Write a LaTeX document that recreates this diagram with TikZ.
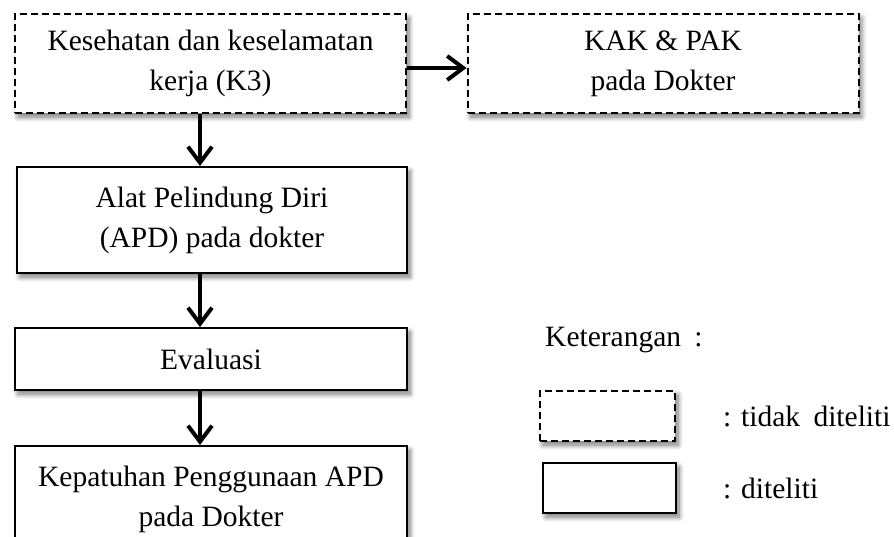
\documentclass[tikz,border=0pt]{standalone}
\usepackage{fontspec}
\setmainfont{Liberation Serif}
\usetikzlibrary{arrows.meta,shadows.blur}
\begin{document}
\begin{tikzpicture}[x=1pt,y=-1pt,
  txt/.style={font={\fontsize{29.5}{40}\selectfont}},
  boxbase/.style={txt,draw=black,fill=white,line width=2pt,align=center,inner sep=0pt,
    blur shadow={shadow xshift=3pt,shadow yshift=-4pt,shadow blur radius=5pt,shadow blur steps=10,shadow opacity=55}},
  solidbox/.style={boxbase},
  dashbox/.style={boxbase,dash pattern=on 7pt off 4pt},
  arr/.style={line width=4pt,-{Straight Barb[length=16pt,width=24pt,line width=4pt]}}]
\useasboundingbox (0,0) rectangle (894,536);
\clip (0,0) rectangle (894,536);
\node[dashbox,minimum width=391pt,minimum height=99pt] (k3) at (210.5,63.5)
  {Kesehatan dan keselamatan\\kerja (K3)};
\node[dashbox,minimum width=391pt,minimum height=99pt] (kak) at (663,63.5)
  {KAK \& PAK\\pada Dokter};
\node[solidbox,minimum width=390pt,minimum height=106pt] (apd) at (212,220)
  {Alat Pelindung Diri\\(APD) pada dokter};
\node[solidbox,minimum width=392pt,minimum height=62pt] (eval) at (211,359)
  {Evaluasi};
\node[solidbox,minimum width=392pt,minimum height=106pt] (kep) at (211,499)
  {Kepatuhan Penggunaan APD\\pada Dokter};
\node[dashbox,minimum width=135pt,minimum height=50pt] (leg1) at (607.5,416) {};
\node[solidbox,minimum width=133pt,minimum height=50pt] (leg2) at (609.5,488) {};
\node[txt,anchor=west,inner sep=0pt] (ket) at (545,340) {Keterangan\hspace{0.45em}:};
\node[txt,anchor=west,inner sep=0pt] (t1) at (723,416) {: tidak\hspace{0.45em}diteliti};
\node[txt,anchor=west,inner sep=0pt] (t2) at (723,488) {: diteliti};
\coordinate (ax) at (200,0);
\coordinate (ay) at (0,68);
\draw[arr] (k3.south -| ax) -- (apd.north -| ax);
\draw[arr] (apd.south -| ax) -- (eval.north -| ax);
\draw[arr] (eval.south -| ax) -- (kep.north -| ax);
\draw[arr] (k3.east |- ay) -- (kak.west |- ay);
\end{tikzpicture}
\end{document}
